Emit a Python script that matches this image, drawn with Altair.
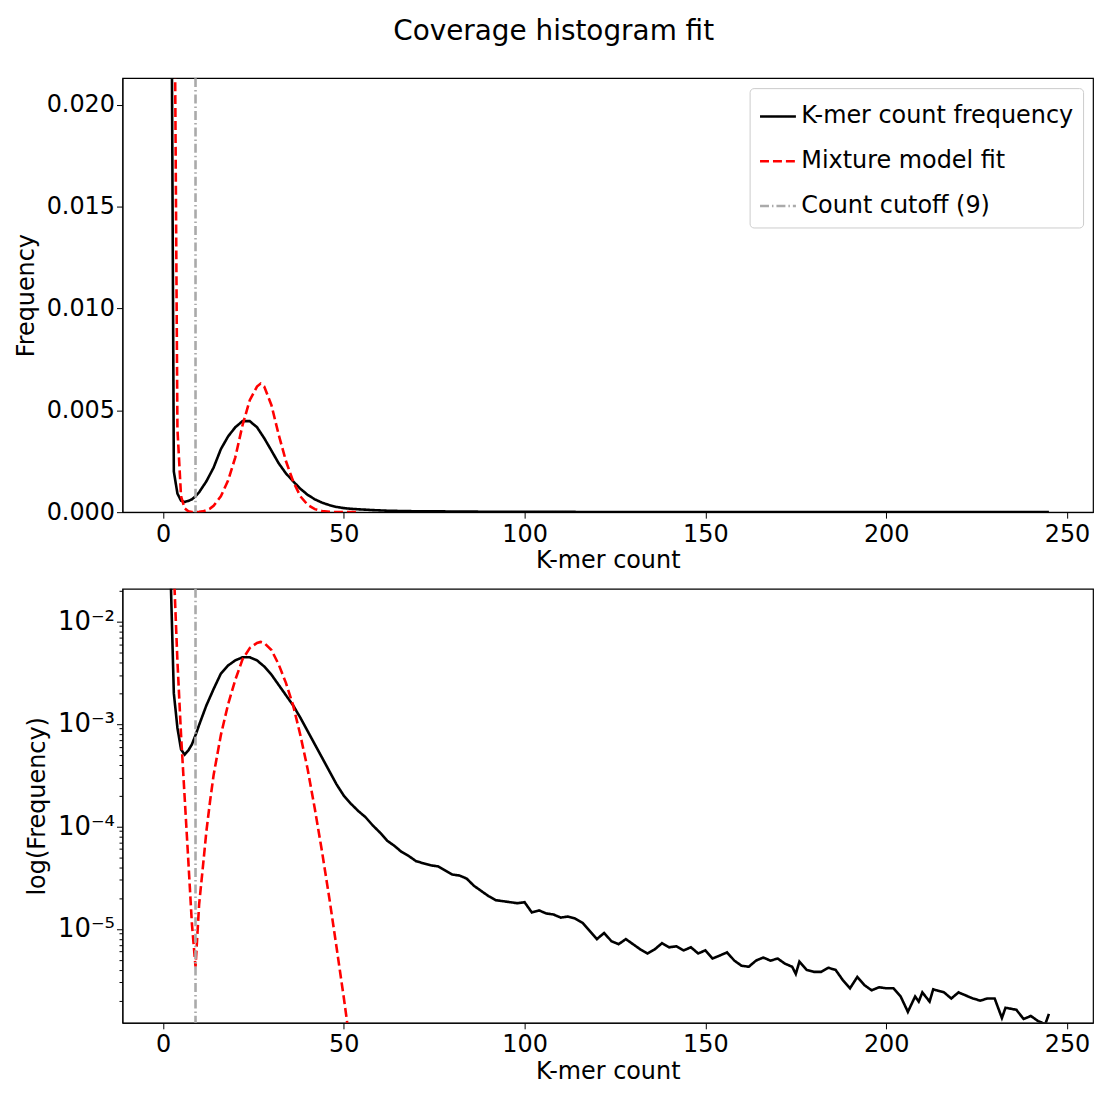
import altair as alt
import pandas as pd

# K-mer count histogram (frequency as log10)
kmer_x = [1, 2, 3, 4, 5, 6, 7, 8, 9, 10, 12, 14, 16, 18, 20, 22, 24, 26, 28, 30,
          32, 34, 36, 38, 40, 42, 44, 46, 48, 50, 52, 54, 56, 58, 60, 62, 64, 66, 68, 70,
          72, 74, 76, 78, 80, 82, 84, 86, 88, 90, 92, 94, 96, 98, 100, 102, 104, 106, 108, 110,
          112, 114, 116, 118, 120, 122, 124, 126, 128, 130, 132, 134, 136, 138, 140, 142, 144, 146, 148, 150,
          152, 154, 156, 158, 160, 162, 164, 166, 168, 170, 172, 174, 175, 176, 178, 180, 182, 184, 186, 188,
          190, 192, 194, 196, 198, 200, 202, 204, 206, 208, 209, 210, 212, 213, 214, 216, 218, 220, 222, 224,
          226, 228, 230, 232, 233, 236, 238, 240, 242, 244, 245]
kmer_log = [-0.7, -1.4, -2.7, -3.04, -3.25, -3.30, -3.26, -3.20, -3.11, -3.01, -2.82, -2.66, -2.51, -2.43, -2.38, -2.35, -2.35, -2.38, -2.44, -2.52,
            -2.62, -2.72, -2.82, -2.94, -3.07, -3.20, -3.33, -3.46, -3.59, -3.70, -3.78, -3.85, -3.91, -3.99, -4.06, -4.14, -4.19, -4.25, -4.29, -4.34,
            -4.36, -4.38, -4.39, -4.43, -4.47, -4.48, -4.51, -4.58, -4.63, -4.68, -4.72, -4.73, -4.74, -4.75, -4.74, -4.84, -4.82, -4.85, -4.86, -4.89,
            -4.88, -4.90, -4.94, -5.02, -5.10, -5.04, -5.12, -5.15, -5.10, -5.15, -5.20, -5.24, -5.20, -5.14, -5.18, -5.17, -5.21, -5.18, -5.24, -5.21,
            -5.29, -5.26, -5.23, -5.31, -5.36, -5.37, -5.31, -5.28, -5.31, -5.29, -5.34, -5.37, -5.44, -5.32, -5.40, -5.42, -5.42, -5.38, -5.40, -5.50,
            -5.58, -5.47, -5.55, -5.60, -5.57, -5.58, -5.58, -5.66, -5.81, -5.66, -5.71, -5.62, -5.71, -5.59, -5.60, -5.62, -5.68, -5.62, -5.65, -5.68,
            -5.70, -5.68, -5.68, -5.87, -5.77, -5.79, -5.88, -5.85, -5.90, -5.93, -5.83]

# Mixture model fit
fit_x = [2, 3, 4, 5, 6, 7, 8, 9, 10, 11, 12, 13, 14, 16, 18, 20, 22, 24, 26, 27,
         28, 30, 32, 34, 36, 38, 40, 42, 44, 46, 48, 50, 51, 52, 54]
fit_log = [-0.9, -1.5, -2.39, -3.11, -3.72, -4.33, -4.95, -5.37, -4.76, -4.41, -4.05, -3.76, -3.50, -3.11, -2.81, -2.57, -2.37, -2.26, -2.21, -2.20,
           -2.21, -2.28, -2.42, -2.60, -2.82, -3.11, -3.44, -3.83, -4.25, -4.70, -5.18, -5.67, -5.93, -6.2, -6.8]

cutoff = 9
series = ["K-mer count frequency", "Mixture model fit", "Count cutoff (9)"]

df = pd.concat([
    pd.DataFrame({"count": kmer_x, "freq": [10 ** v for v in kmer_log], "series": series[0]}),
    pd.DataFrame({"count": fit_x, "freq": [10 ** v for v in fit_log], "series": series[1]}),
])
cut_df = pd.DataFrame({"count": [cutoff], "series": [series[2]]})

FONT = "DejaVu Sans"
FS = 24
xscale = alt.Scale(domain=[-11.2, 257.2], nice=False, zero=False)
cscale = alt.Scale(domain=series, range=["black", "red", "#aaaaaa"])
dscale = alt.Scale(domain=series, range=[[1, 0], [9, 4], [9, 3, 1.5, 3]])
color = alt.Color("series:N", title=None, scale=cscale,
                  legend=alt.Legend(orient="top-right", symbolType="stroke", symbolSize=1300,
                                    symbolStrokeWidth=2.5, labelFontSize=FS, labelFont=FONT,
                                    labelLimit=0, padding=9, rowPadding=13, strokeColor="#cccccc",
                                    fillColor="white", cornerRadius=4, offset=10))
dash = alt.StrokeDash("series:N", title=None, scale=dscale)
width_sc = alt.StrokeWidth("series:N", scale=alt.Scale(domain=series, range=[2.6, 2.6, 0.9]), legend=None)

xaxis = alt.Axis(title="K-mer count", values=[0, 50, 100, 150, 200, 250], grid=False,
                 tickSize=6, tickColor="black", domainColor="black", labelColor="black",
                 labelFontSize=FS, titleFontSize=FS, labelFont=FONT, titleFont=FONT,
                 titleFontWeight="normal", titleColor="black", labelPadding=4, titlePadding=3)


def panel(yenc, show_legend):
    c = color if show_legend else alt.Color("series:N", legend=None, scale=cscale)
    d = dash if show_legend else alt.StrokeDash("series:N", legend=None, scale=dscale)
    lines = alt.Chart(df).mark_line(clip=True).encode(
        x=alt.X("count:Q", scale=xscale, axis=xaxis), y=yenc, color=c, strokeDash=d,
        strokeWidth=width_sc, order="count:Q")
    rule = alt.Chart(cut_df).mark_rule().encode(
        x=alt.X("count:Q", scale=xscale), color=c, strokeDash=d, strokeWidth=width_sc)
    return alt.layer(lines, rule).properties(width=975, height=436)


def yaxis(title, size=FS, **kw):
    return alt.Axis(title=title, grid=False, tickColor="black", domainColor="black",
                    labelColor="black", labelFontSize=size, titleFontSize=FS, labelFont=FONT,
                    titleFont=FONT, titleFontWeight="normal", titleColor="black", titlePadding=8, **kw)


top_y = alt.Y("freq:Q", scale=alt.Scale(domain=[0, 0.0213], nice=False),
              axis=yaxis("Frequency", values=[0, 0.005, 0.01, 0.015, 0.02], format=".3f", tickSize=6))

minor = []
for e in [-6, -5, -4, -3, -2]:
    for m in range(1, 10):
        v = m * 10 ** e
        if 1.21e-6 <= v <= 0.0208:
            minor.append(v)
bot_y = alt.Y("freq:Q", scale=alt.Scale(type="log", domain=[1.21e-6, 0.0208], nice=False),
              axis=yaxis("log(Frequency)", size=26, values=minor,
                         labelExpr="datum.value == 1e-5 ? '10⁻⁵' : datum.value == 1e-4 ? '10⁻⁴' : "
                                   "datum.value == 1e-3 ? '10⁻³' : datum.value == 1e-2 ? '10⁻²' : ''",
                         tickSize={"condition": {"test": "abs(log(datum.value)/LN10 - round(log(datum.value)/LN10)) < 0.001",
                                                 "value": 6}, "value": 3.5}))

chart = alt.vconcat(panel(top_y, True), panel(bot_y, False), spacing=13).properties(
    title=alt.Title("Coverage histogram fit", fontSize=28, font=FONT, fontWeight="normal",
                    anchor="middle", offset=30, color="black"),
    padding={"left": 5, "top": 8, "right": 5, "bottom": 5}
).configure_view(stroke="black", strokeWidth=1.2).resolve_scale(color="shared", strokeDash="shared")

chart.save("out.html", embed_options={"renderer": "svg", "actions": False})
